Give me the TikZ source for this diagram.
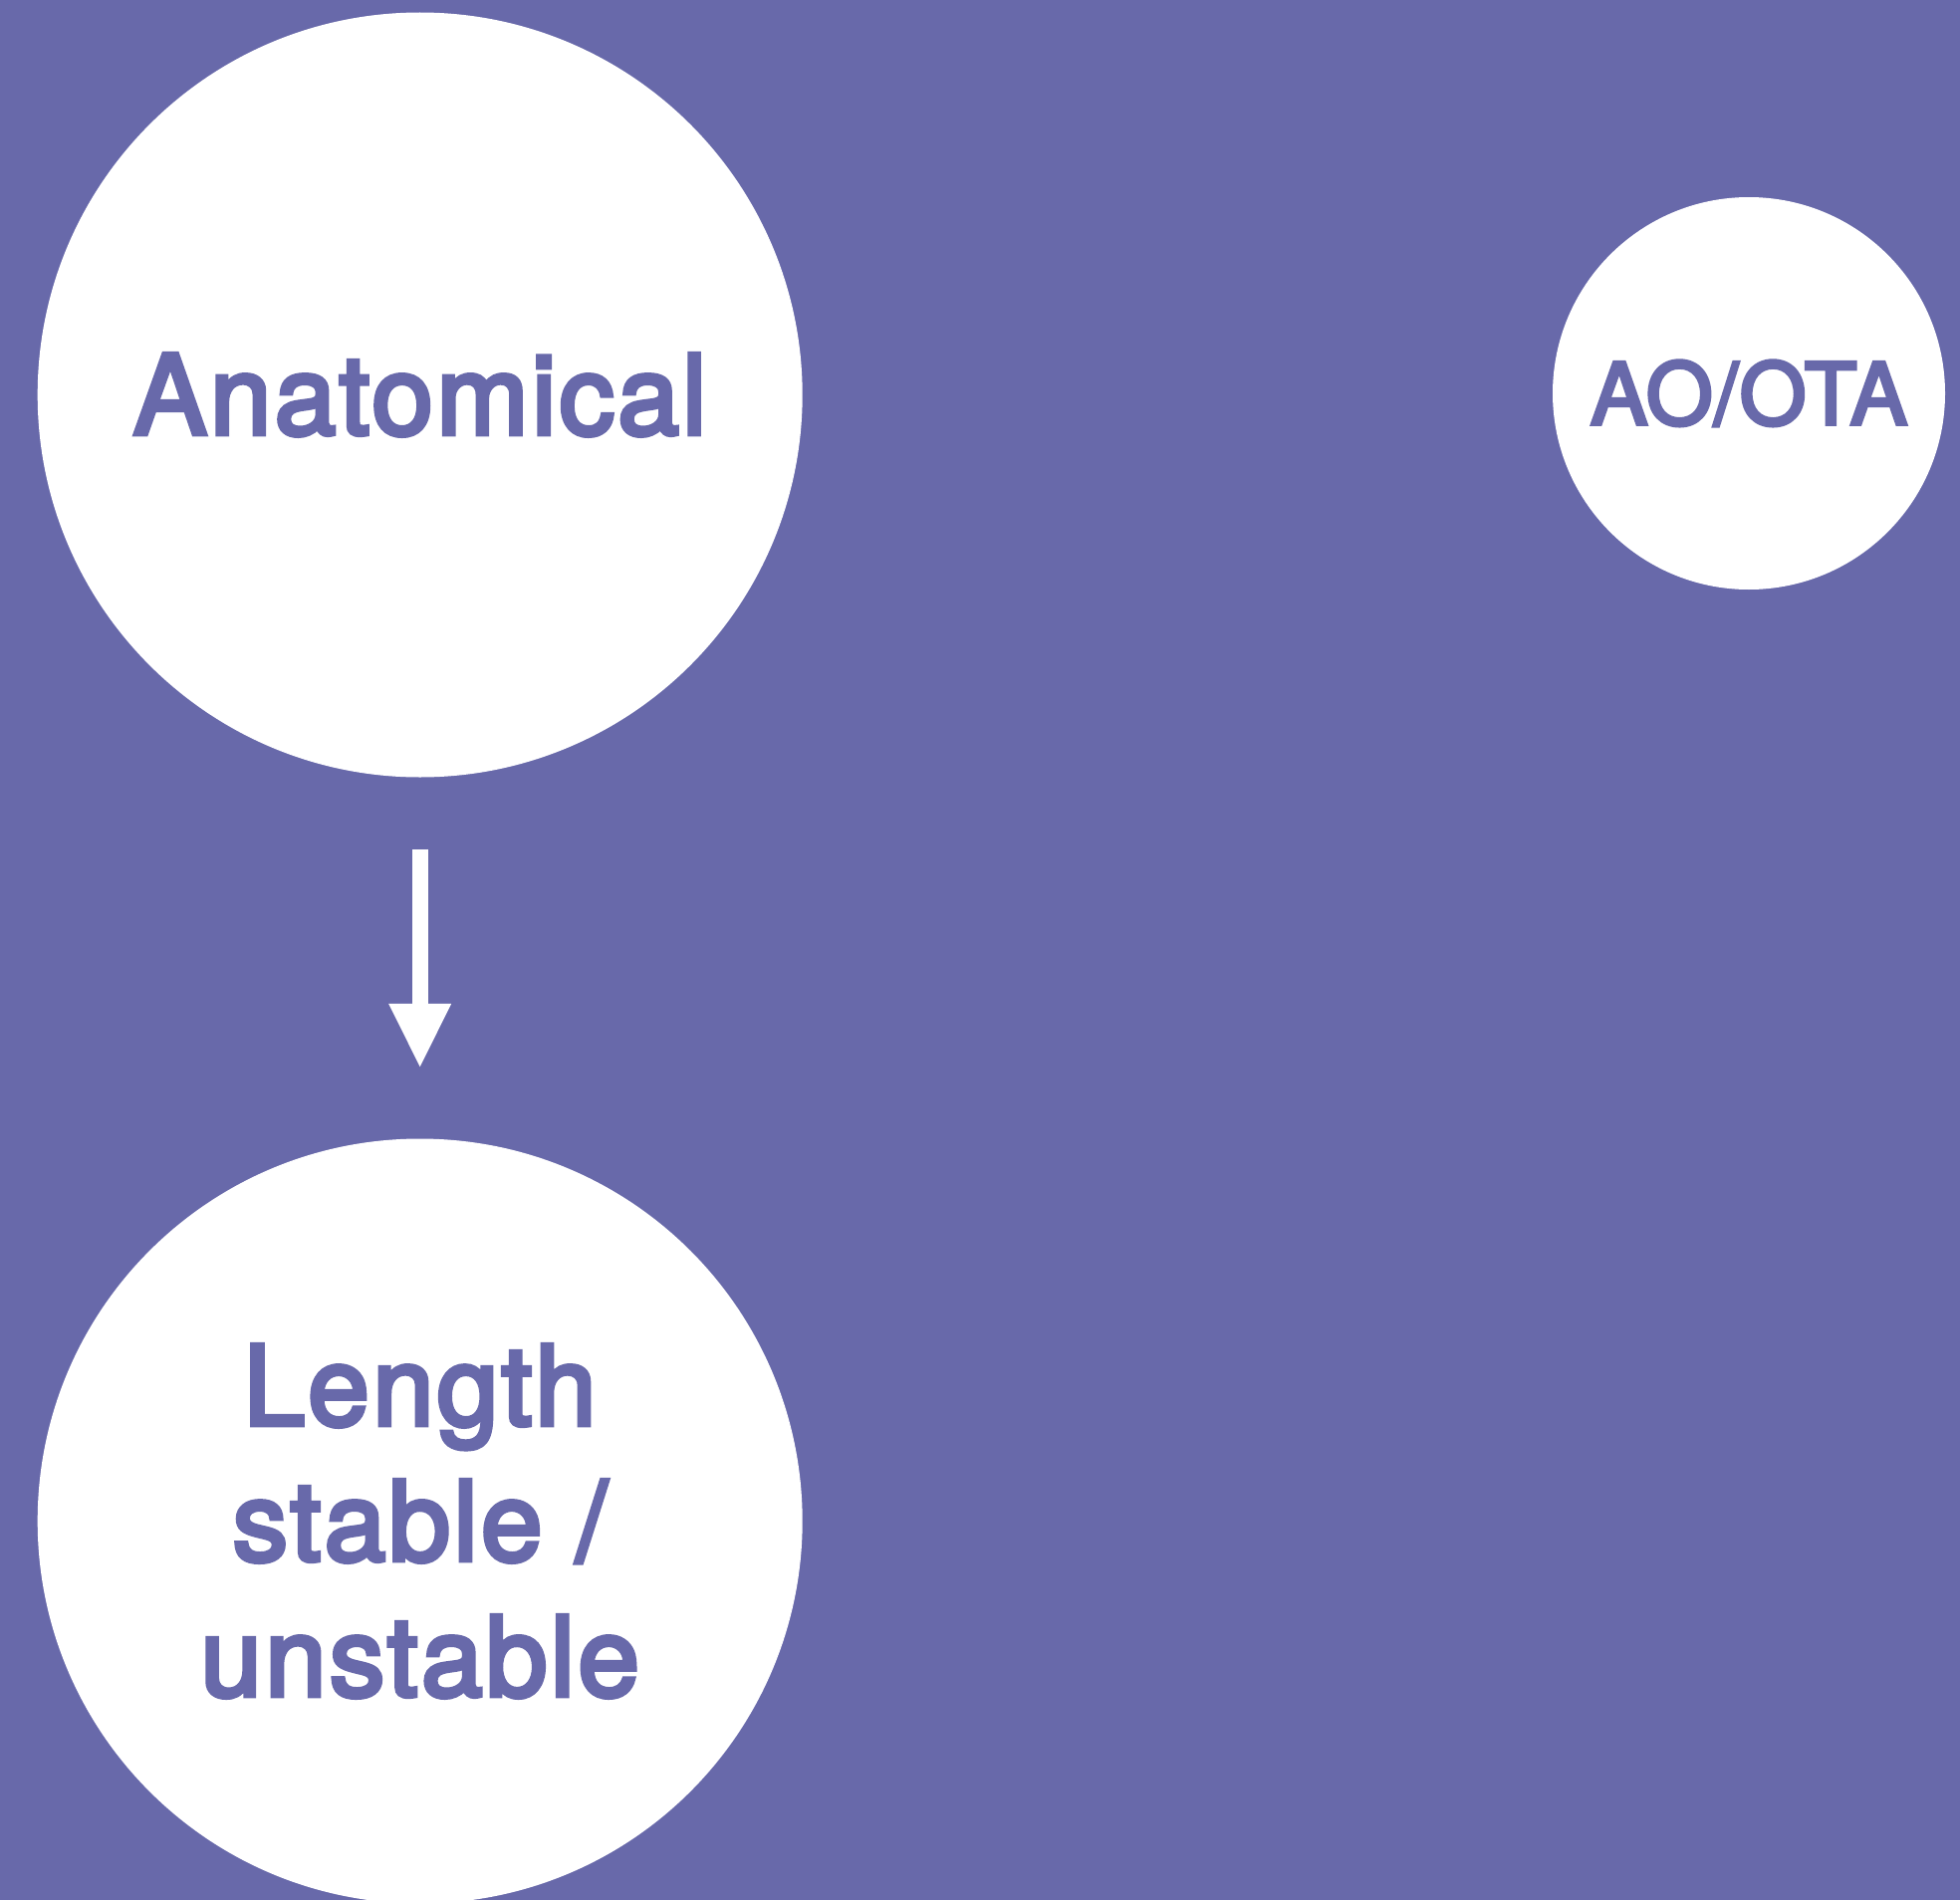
\documentclass[tikz,border=0pt]{standalone}
\usepackage{fontspec}
\setmainfont{TeX Gyre Heros}[FakeBold=4, LetterSpace=1.8]
\newfontfamily\bigheros{TeX Gyre Heros}[FakeBold=4, LetterSpace=2.8]
\usetikzlibrary{arrows.meta}
\definecolor{bgpurple}{HTML}{6869AA}
\begin{document}
\begin{tikzpicture}[x=1pt,y=-1pt,
  bubble/.style={circle, fill=white, inner sep=0pt, text=bgpurple, align=center},
  bigtext/.style={font=\bigheros\fontsize{111}{136}\selectfont},
  flow/.style={draw=white, line width=16pt,
    -{Triangle[length=63.4pt,width=63pt,line width=0pt]}}]
\fill[bgpurple] (0,0) rectangle (1968,1908);
\useasboundingbox (0,0) rectangle (1968,1908);
\clip (0,0) rectangle (1968,1908);
\node[bubble, bigtext, minimum size=768pt] (anat) at (421.7,396.5) {Anatomical};
\node[bubble, font=\fontsize{86}{100}\selectfont, minimum size=394pt] (aoota) at (1756,395) {AO/OTA};
\node[bubble, bigtext, minimum size=768pt] (len) at (421.7,1527.5) {Length\\stable /\\unstable};
\draw[flow] ([yshift=-72pt]anat.south) -- ([yshift=72pt]len.north);
\end{tikzpicture}
\end{document}
